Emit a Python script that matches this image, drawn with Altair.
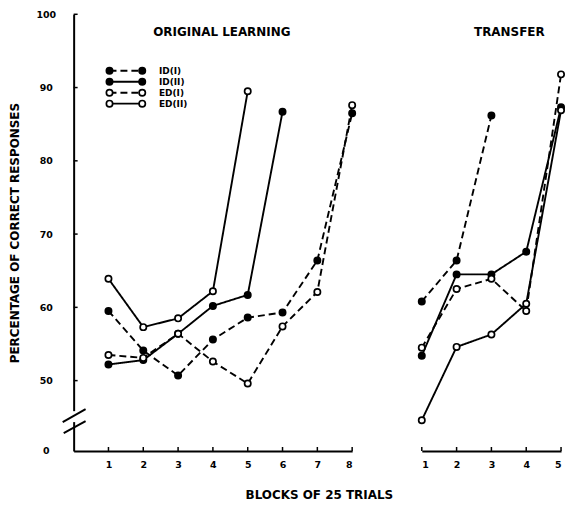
import altair as alt
import pandas as pd

# ---------------- data ----------------
series = ["ID(I)", "ID(II)", "ED(I)", "ED(II)"]

blocks_ol = [1, 2, 3, 4, 5, 6, 7, 8]
blocks_tr = [1, 2, 3, 4, 5]

ol_id1 = [59.5, 54.1, 50.7, 55.6, 58.6, 59.3, 66.4, 86.5]
ol_id2 = [52.2, 52.8, 56.4, 60.2, 61.7, 86.7]
ol_ed1 = [53.5, 53.1, 56.4, 52.6, 49.6, 57.4, 62.1, 87.6]
ol_ed2 = [63.9, 57.3, 58.5, 62.2, 89.5]

tr_id1 = [60.8, 66.4, 86.2]
tr_id2 = [53.4, 64.5, 64.5, 67.6, 87.3]
tr_ed1 = [54.5, 62.5, 63.9, 59.5, 91.8]
tr_ed2 = [44.6, 54.6, 56.3, 60.5, 86.9]

y_ticks = [50, 60, 70, 80, 90, 100]
Y_MIN = 40.4  # bottom of the broken axis, labelled "0"


def long(blocks, lists):
    rows = []
    for s, vals in zip(series, lists):
        for b, v in zip(blocks, vals):
            rows.append({"series": s, "block": b, "value": v})
    return pd.DataFrame(rows)


df_ol = long(blocks_ol, [ol_id1, ol_id2, ol_ed1, ol_ed2])
df_tr = long(blocks_tr, [tr_id1, tr_id2, tr_ed1, tr_ed2])

# legend placement (in data units of the left panel)
LEG_X0, LEG_X1, LEG_XT = 1.03, 1.97, 2.45
LEG_Y = [92.3, 90.8, 89.3, 87.8]
leg_line = pd.DataFrame(
    [{"series": s, "lx": x, "ly": y} for s, y in zip(series, LEG_Y) for x in (LEG_X0, LEG_X1)]
)
leg_text = pd.DataFrame([{"series": s, "lx": LEG_XT, "ly": y} for s, y in zip(series, LEG_Y)])

# ---------------- styling ----------------
FONT = "DejaVu Sans"
W_L, W_R, H = 280, 140, 439
MSIZE = 40

dash = alt.StrokeDash(
    "series:N",
    scale=alt.Scale(domain=series, range=[[7, 4], [1, 0], [7, 4], [1, 0]]),
    legend=None,
)
fill = alt.Fill(
    "series:N",
    scale=alt.Scale(domain=series, range=["black", "black", "white", "white"]),
    legend=None,
)

x_axis_common = dict(
    tickSize=0, labelPadding=9, labelFont=FONT, labelFontSize=9.5, labelFontWeight="bold",
    labelColor="black", domainColor="black", domainWidth=2, grid=False, title=None,
    labelAngle=0,
)
ax_xl = alt.Axis(values=blocks_ol, **x_axis_common)
ax_xr = alt.Axis(values=blocks_tr, **x_axis_common)
ax_yl = alt.Axis(
    values=[Y_MIN] + y_ticks,
    labelExpr="datum.value < 45 ? '0' : format(datum.value, 'd')",
    tickSize=0, labelPadding=28, labelAlign="center", labelFont=FONT, labelFontSize=9.5,
    labelFontWeight="bold", labelColor="black", domainColor="black", domainWidth=2,
    grid=False, title="PERCENTAGE OF CORRECT RESPONSES", titleFont=FONT, titleFontSize=12,
    titleFontWeight="bold", titleColor="black", titlePadding=15,
)

ys = alt.Scale(domain=[Y_MIN, 100], nice=False, zero=False)
xs_l = alt.Scale(domain=[0, 8], nice=False)
xs_r = alt.Scale(domain=[1, 5], nice=False)


def XL(f):
    return alt.X(f, type="quantitative", scale=xs_l, axis=ax_xl)


def XR(f):
    return alt.X(f, type="quantitative", scale=xs_r, axis=ax_xr)


def YL(f):
    return alt.Y(f, type="quantitative", scale=ys, axis=ax_yl)


def YR(f):
    return alt.Y(f, type="quantitative", scale=ys, axis=None)


def panel(df, XF, YF, blocks):
    lines = alt.Chart(df).mark_line(color="black", strokeWidth=1.9).encode(
        x=XF("block"), y=YF("value"), detail="series:N", strokeDash=dash
    )
    pts = alt.Chart(df).mark_point(
        shape="circle", size=MSIZE, stroke="black", strokeWidth=1.7, opacity=1, fillOpacity=1
    ).encode(x=XF("block"), y=YF("value"), fill=fill)
    xt = alt.Chart(pd.DataFrame({"b": blocks})).mark_rule(color="black", strokeWidth=1.5).encode(
        x=XF("b"), y=alt.value(H), y2=alt.value(H - 4)
    )
    return [lines, pts, xt]


def one(text):
    return alt.Chart(pd.DataFrame({"t": [text]}))


def title_text(text, px, py):
    return one(text).mark_text(
        align="center", baseline="middle", font=FONT, fontSize=12, fontWeight="bold", color="black"
    ).encode(x=alt.value(px), y=alt.value(py), text="t:N")


# left panel
left_layers = panel(df_ol, XL, YL, blocks_ol)
yt = alt.Chart(pd.DataFrame({"t": y_ticks})).mark_rule(color="black", strokeWidth=1.5).encode(
    y=YL("t"), x=alt.value(0), x2=alt.value(4)
)
gap = one("").mark_rule(color="white", strokeWidth=5).encode(
    x=alt.value(0), y=alt.value(399), y2=alt.value(410)
)
sl1 = one("").mark_rule(color="black", strokeWidth=2).encode(
    x=alt.value(-11), y=alt.value(410), x2=alt.value(12), y2=alt.value(397)
)
sl2 = one("").mark_rule(color="black", strokeWidth=2).encode(
    x=alt.value(-10), y=alt.value(421), x2=alt.value(12), y2=alt.value(409)
)
lg_l = alt.Chart(leg_line).mark_line(color="black", strokeWidth=1.9).encode(
    x=XL("lx"), y=YL("ly"), detail="series:N", strokeDash=dash
)
lg_p = alt.Chart(leg_line).mark_point(
    shape="circle", size=MSIZE, stroke="black", strokeWidth=1.7, opacity=1, fillOpacity=1
).encode(x=XL("lx"), y=YL("ly"), fill=fill)
lg_t = alt.Chart(leg_text).mark_text(
    align="left", baseline="middle", font=FONT, fontSize=9, fontWeight="bold", color="black"
).encode(x=XL("lx"), y=YL("ly"), text="series:N")
t_ol = title_text("ORIGINAL  LEARNING", 149, 18)
t_x = title_text("BLOCKS OF 25 TRIALS", 247, H + 44)

left = alt.layer(
    *left_layers, yt, gap, sl1, sl2, lg_l, lg_p, lg_t, t_ol, t_x
).properties(width=W_L, height=H)

# right panel
right_layers = panel(df_tr, XR, YR, blocks_tr)
t_tr = title_text("TRANSFER", 88, 18)
right = alt.layer(*right_layers, t_tr).properties(width=W_R, height=H)

chart = (
    alt.hconcat(left, right, spacing=70, bounds="flush")
    .resolve_scale(x="independent", y="independent")
    .properties(padding={"left": 0, "top": 0, "right": 0, "bottom": 0})
    .configure_view(stroke=None)
)

chart.save("out.html", embed_options={"renderer": "svg", "actions": False})
